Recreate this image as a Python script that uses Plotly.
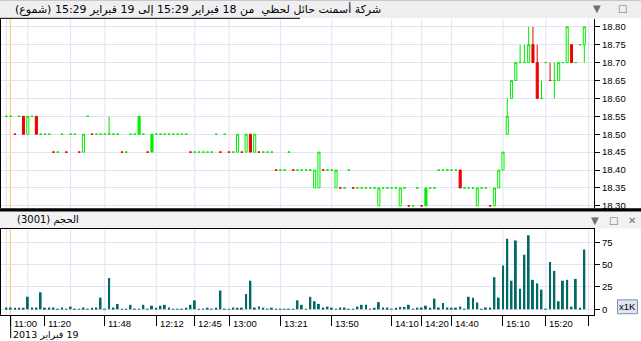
import plotly.graph_objects as go

W, H = 641, 341

# ---------------- data (1-minute candles, index order) ----------------
opens = [
    18.55, 18.55, 18.50, 18.55, 18.55, 18.50, 18.55, 18.55, 18.50, 18.50,
    18.50, 18.45, 18.45, 18.50, 18.45, 18.50, 18.50, 18.45, 18.45, 18.55,
    18.50, 18.50, 18.50, 18.50, 18.50, 18.50, 18.50, 18.45, 18.45, 18.50,
    18.50, 18.55, 18.50, 18.45, 18.50, 18.50, 18.50, 18.50, 18.50, 18.50,
    18.50, 18.50, 18.50, 18.45, 18.45, 18.45, 18.45, 18.45, 18.45, 18.50,
    18.45, 18.50, 18.45, 18.45, 18.45, 18.45, 18.45, 18.50, 18.45, 18.45,
    18.45, 18.45, 18.45, 18.40, 18.40, 18.40, 18.45, 18.40, 18.40, 18.40,
    18.40, 18.40, 18.35, 18.35, 18.40, 18.40, 18.40, 18.35, 18.35, 18.35,
    18.40, 18.35, 18.35, 18.35, 18.35, 18.35, 18.35, 18.30, 18.35, 18.35,
    18.35, 18.35, 18.30, 18.35, 18.30, 18.30, 18.35, 18.30, 18.35, 18.35,
    18.35, 18.40, 18.40, 18.40, 18.40, 18.40, 18.40, 18.35, 18.35, 18.35,
    18.30, 18.35, 18.35, 18.30, 18.30, 18.35, 18.40, 18.50, 18.60, 18.65,
    18.70, 18.70, 18.70, 18.75, 18.70, 18.60, 18.70, 18.65, 18.65, 18.65,
    18.70, 18.70, 18.75, 18.70, 18.75, 18.75,
]
highs = [
    18.55, 18.55, 18.50, 18.55, 18.55, 18.55, 18.55, 18.55, 18.50, 18.50,
    18.50, 18.45, 18.45, 18.50, 18.45, 18.50, 18.50, 18.45, 18.50, 18.55,
    18.50, 18.50, 18.50, 18.50, 18.55, 18.50, 18.50, 18.45, 18.45, 18.50,
    18.50, 18.55, 18.50, 18.45, 18.50, 18.50, 18.50, 18.50, 18.50, 18.50,
    18.50, 18.50, 18.50, 18.45, 18.45, 18.45, 18.45, 18.45, 18.45, 18.50,
    18.45, 18.50, 18.45, 18.45, 18.50, 18.45, 18.50, 18.50, 18.50, 18.45,
    18.45, 18.45, 18.45, 18.40, 18.40, 18.40, 18.45, 18.40, 18.40, 18.40,
    18.40, 18.40, 18.40, 18.45, 18.40, 18.40, 18.40, 18.40, 18.35, 18.35,
    18.40, 18.35, 18.35, 18.35, 18.35, 18.35, 18.35, 18.35, 18.35, 18.35,
    18.35, 18.35, 18.35, 18.35, 18.30, 18.30, 18.35, 18.30, 18.35, 18.35,
    18.35, 18.40, 18.40, 18.40, 18.40, 18.40, 18.40, 18.35, 18.35, 18.35,
    18.35, 18.35, 18.35, 18.30, 18.35, 18.40, 18.45, 18.60, 18.65, 18.70,
    18.75, 18.75, 18.80, 18.80, 18.75, 18.65, 18.70, 18.70, 18.70, 18.70,
    18.70, 18.80, 18.75, 18.70, 18.75, 18.80,
]
lows = [
    18.55, 18.55, 18.50, 18.55, 18.50, 18.50, 18.55, 18.50, 18.50, 18.50,
    18.50, 18.45, 18.45, 18.50, 18.45, 18.50, 18.50, 18.45, 18.45, 18.55,
    18.50, 18.50, 18.50, 18.50, 18.50, 18.50, 18.50, 18.45, 18.45, 18.50,
    18.50, 18.50, 18.50, 18.45, 18.45, 18.50, 18.50, 18.50, 18.50, 18.50,
    18.50, 18.50, 18.50, 18.45, 18.45, 18.45, 18.45, 18.45, 18.45, 18.50,
    18.45, 18.50, 18.45, 18.45, 18.45, 18.45, 18.45, 18.45, 18.45, 18.45,
    18.45, 18.45, 18.45, 18.40, 18.40, 18.40, 18.45, 18.40, 18.40, 18.40,
    18.40, 18.40, 18.35, 18.35, 18.40, 18.40, 18.40, 18.35, 18.35, 18.35,
    18.40, 18.35, 18.35, 18.35, 18.35, 18.35, 18.35, 18.30, 18.35, 18.35,
    18.35, 18.35, 18.30, 18.35, 18.30, 18.30, 18.35, 18.30, 18.30, 18.35,
    18.35, 18.40, 18.40, 18.40, 18.40, 18.40, 18.35, 18.35, 18.35, 18.35,
    18.30, 18.35, 18.35, 18.30, 18.30, 18.35, 18.40, 18.50, 18.60, 18.65,
    18.70, 18.70, 18.70, 18.70, 18.60, 18.60, 18.70, 18.65, 18.60, 18.65,
    18.70, 18.70, 18.70, 18.70, 18.75, 18.70,
]
closes = [
    18.55, 18.55, 18.50, 18.55, 18.50, 18.55, 18.55, 18.50, 18.50, 18.50,
    18.50, 18.45, 18.45, 18.50, 18.45, 18.50, 18.50, 18.45, 18.50, 18.55,
    18.50, 18.50, 18.50, 18.50, 18.50, 18.50, 18.50, 18.45, 18.45, 18.50,
    18.50, 18.50, 18.50, 18.45, 18.45, 18.50, 18.50, 18.50, 18.50, 18.50,
    18.50, 18.50, 18.50, 18.45, 18.45, 18.45, 18.45, 18.45, 18.45, 18.50,
    18.45, 18.50, 18.45, 18.45, 18.50, 18.45, 18.50, 18.45, 18.50, 18.45,
    18.45, 18.45, 18.45, 18.40, 18.40, 18.40, 18.45, 18.40, 18.40, 18.40,
    18.40, 18.40, 18.40, 18.45, 18.40, 18.40, 18.40, 18.40, 18.35, 18.35,
    18.40, 18.35, 18.35, 18.35, 18.35, 18.35, 18.35, 18.35, 18.35, 18.35,
    18.35, 18.35, 18.35, 18.35, 18.30, 18.30, 18.35, 18.30, 18.30, 18.35,
    18.35, 18.40, 18.40, 18.40, 18.40, 18.40, 18.35, 18.35, 18.35, 18.35,
    18.35, 18.35, 18.35, 18.30, 18.35, 18.40, 18.45, 18.55, 18.65, 18.70,
    18.70, 18.70, 18.75, 18.70, 18.60, 18.60, 18.70, 18.65, 18.65, 18.70,
    18.70, 18.80, 18.70, 18.70, 18.75, 18.80,
]
volumes_k = [
    2, 2, 1, 1, 1, 14, 2, 2, 19, 1,
    2, 2, 0.2, 2, 0.2, 3, 0.2, 0.2, 2, 0.2,
    1, 2, 13, 0.2, 35, 2, 6, 0.2, 0.2, 5,
    0.2, 0.2, 5, 0.2, 4, 1.5, 4, 5, 2, 0.2,
    0.2, 0.2, 1, 5, 10, 0.2, 0.2, 1, 0.2, 1,
    21, 0.2, 0.2, 2, 1, 1, 17, 32, 2, 3,
    1, 0.2, 1, 0.2, 0.2, 0.2, 0.2, 0.2, 10, 5,
    0.2, 14, 9, 6, 2, 3, 1, 0.2, 2, 2,
    0.2, 0.2, 3, 5, 5, 0.2, 1, 8, 2, 2,
    0.2, 1, 2.6, 2.6, 5, 0.2, 1, 2, 4, 1,
    12, 2, 7, 2, 1, 1, 3, 0.2, 14, 13,
    7.6, 0.2, 2, 2, 36, 13, 49, 79, 32, 77,
    23, 61, 83, 33, 29, 22, 0.2, 53, 43, 9,
    32, 33, 3, 34, 1, 67,
]
time_tick_idx = [1, 9, 23, 35, 44, 52, 64, 76, 90, 97, 104, 116, 126, 136]
time_tick_labels = ["11:00", "11:20", "11:48", "12:12", "12:45", "13:00", "13:21",
                    "13:50", "14:10", "14:20", "14:40", "15:10", "15:20", ""]
grid_idx = [0, 5, 15, 23, 35, 44, 52, 64, 76, 90, 97, 104, 116, 126, 136]
price_ticks = [18.30, 18.35, 18.40, 18.45, 18.50, 18.55, 18.60, 18.65, 18.70, 18.75, 18.80]
volume_ticks = [0, 25, 50, 75]
day_start_idx = 1
title_text = "شركة أسمنت حائل لحظي  من 18 فبراير 15:29 إلى 19 فبراير 15:29 (شموع)"
volume_title = "الحجم (3001)"
date_label = "19 فبراير 2013"

# ---------------- styling ----------------
GREEN = "#00ee00"
RED = "#f00000"
TEAL = "#006a66"
GRID = "#e2e2f4"
FONT = "Liberation Sans, Arial, sans-serif"
AFONT = "DejaVu Sans, sans-serif"
RLE, PDF = "\u202b", "\u202c"


def px(xp):
    return xp / W


def py(yp):
    return 1 - yp / H


n = len(closes)
idx = list(range(n))
# colour by change versus previous close (equal counts as up)
is_red = [i > 0 and closes[i] < closes[i - 1] for i in idx]


def pick(vals, want_red):
    return [v if is_red[i] == want_red else None for i, v in enumerate(vals)]


fig = go.Figure()

fig.add_trace(go.Candlestick(
    x=idx, open=pick(opens, False), high=pick(highs, False),
    low=pick(lows, False), close=pick(closes, False),
    increasing=dict(line=dict(color=GREEN, width=1), fillcolor="white"),
    decreasing=dict(line=dict(color=GREEN, width=1), fillcolor=GREEN),
    xaxis="x", yaxis="y", hoverinfo="skip", showlegend=False,
))
fig.add_trace(go.Candlestick(
    x=idx, open=pick(opens, True), high=pick(highs, True),
    low=pick(lows, True), close=pick(closes, True),
    increasing=dict(line=dict(color=RED, width=1), fillcolor=RED),
    decreasing=dict(line=dict(color=RED, width=1), fillcolor=RED),
    xaxis="x", yaxis="y", hoverinfo="skip", showlegend=False,
))
fig.add_trace(go.Bar(
    x=idx, y=volumes_k, width=0.45, marker=dict(color=TEAL, line=dict(width=0)),
    xaxis="x2", yaxis="y2", hoverinfo="skip", showlegend=False,
))

XR = [-1.495, 137.26]
xdom = [0, px(594)]

fig.update_layout(
    width=W, height=H, margin=dict(l=0, r=0, t=0, b=0),
    paper_bgcolor="white", plot_bgcolor="white",
    font=dict(family=FONT, size=9, color="black"),
    showlegend=False,
    xaxis=dict(domain=xdom, range=XR, anchor="y", showgrid=False, zeroline=False,
               showticklabels=False, ticks="", rangeslider=dict(visible=False),
               fixedrange=True),
    yaxis=dict(domain=[py(210), py(19)], range=[18.2936, 18.8221], side="right",
               anchor="x", tickvals=price_ticks, ticktext=[f"{v:.2f}" for v in price_ticks],
               ticks="outside", ticklen=5, tickcolor="black", showline=True,
               linecolor="black", linewidth=1, showgrid=True, gridcolor=GRID,
               gridwidth=1, zeroline=False, tickfont=dict(size=9.5)),
    xaxis2=dict(domain=xdom, range=XR, anchor="y2", showgrid=False, zeroline=False,
                tickvals=time_tick_idx, ticks="outside", ticklen=10, tickcolor="black",
                showticklabels=False, showline=True, mirror=True, linecolor="black",
                linewidth=1),
    yaxis2=dict(domain=[py(317.7), py(230.7)], range=[-6.3, 90.3], side="right",
                anchor="x2", tickvals=volume_ticks, ticks="outside", ticklen=5,
                tickcolor="black", showline=True, linecolor="black", linewidth=1,
                showgrid=True, gridcolor=GRID, gridwidth=1, zeroline=False,
                tickfont=dict(size=9.5)),
)

shapes = []
# title bar and separators
shapes.append(dict(type="rect", xref="paper", yref="paper", x0=0, x1=1, y0=py(18.5), y1=py(0),
                   fillcolor="#efeff1", line=dict(width=0), layer="below"))
shapes.append(dict(type="line", xref="paper", yref="paper", x0=0, x1=1, y0=py(0.5), y1=py(0.5),
                   line=dict(color="#c8c8c8", width=1)))
shapes.append(dict(type="line", xref="paper", yref="paper", x0=0, x1=px(300), y0=py(18.5), y1=py(18.5),
                   line=dict(color="black", width=1)))
shapes.append(dict(type="rect", xref="paper", yref="paper", x0=0, x1=1, y0=py(230.5), y1=py(213),
                   fillcolor="#f2f2f4", line=dict(width=0), layer="below"))
shapes.append(dict(type="rect", xref="paper", yref="paper", x0=0, x1=1, y0=py(213.3), y1=py(210),
                   fillcolor="black", line=dict(width=0)))
# left borders
for y0, y1 in [(19, 210), (230.7, 317.7)]:
    shapes.append(dict(type="line", xref="paper", yref="paper", x0=px(0.5), x1=px(0.5),
                       y0=py(y1), y1=py(y0), line=dict(color="black", width=1)))
# vertical grid lines
for g in grid_idx:
    for xr, yr in [("x", "y domain"), ("x2", "y2 domain")]:
        shapes.append(dict(type="line", xref=xr, yref=yr, x0=g, x1=g, y0=0, y1=1,
                           line=dict(color=GRID, width=1), layer="below"))
# day boundary marker
for xr, yr in [("x", "y domain"), ("x2", "y2 domain")]:
    shapes.append(dict(type="line", xref=xr, yref=yr, x0=day_start_idx - 0.1, x1=day_start_idx - 0.1,
                       y0=0, y1=1, line=dict(color="#f7c36e", width=1), layer="below"))
# long tick for the date
shapes.append(dict(type="line", xref="x2", yref="paper", x0=day_start_idx, x1=day_start_idx,
                   y0=py(341), y1=py(318), line=dict(color="black", width=1)))
# x1K box
shapes.append(dict(type="rect", xref="paper", yref="paper", x0=px(617.5), x1=px(637.5),
                   y0=py(316.5), y1=py(302.5), fillcolor="#dfe5f3",
                   line=dict(color="#7f8fb0", width=1)))
fig.update_layout(shapes=shapes)

ann = []
ann.append(dict(text=RLE + title_text + PDF, xref="paper", yref="paper", x=px(13), y=py(9),
                xanchor="left", yanchor="middle", showarrow=False,
                font=dict(family=AFONT, size=11, color="black")))
for sym, xp in [("▼", 597), ("□", 622)]:
    ann.append(dict(text=sym, xref="paper", yref="paper", x=px(xp), y=py(9), xanchor="center",
                    yanchor="middle", showarrow=False, font=dict(family="DejaVu Sans", size=10, color="#707070")))
ann.append(dict(text=RLE + volume_title + PDF, xref="paper", yref="paper", x=px(15), y=py(222),
                xanchor="left", yanchor="middle", showarrow=False,
                font=dict(family=AFONT, size=10, color="black")))
for sym, xp in [("▼", 595), ("□", 613), ("✕", 632)]:
    ann.append(dict(text=sym, xref="paper", yref="paper", x=px(xp), y=py(222), xanchor="center",
                    yanchor="middle", showarrow=False, font=dict(family="DejaVu Sans", size=10, color="#707070")))
for t, lab in zip(time_tick_idx, time_tick_labels):
    if lab:
        ann.append(dict(text=lab, xref="x2", yref="paper", x=t, y=py(326), xanchor="left",
                        yanchor="middle", xshift=1.5, showarrow=False,
                        font=dict(family=FONT, size=9.5, color="black")))
ann.append(dict(text=RLE + date_label + PDF, xref="x2", yref="paper", x=day_start_idx, y=py(337),
                xanchor="left", yanchor="middle", xshift=0.5, showarrow=False,
                font=dict(family=AFONT, size=9.5, color="black")))
ann.append(dict(text="x1K", xref="paper", yref="paper", x=px(627.5), y=py(309.5), xanchor="center",
                yanchor="middle", showarrow=False, font=dict(family=FONT, size=9.5, color="black")))
fig.update_layout(annotations=ann)

fig.write_html("out.html")
